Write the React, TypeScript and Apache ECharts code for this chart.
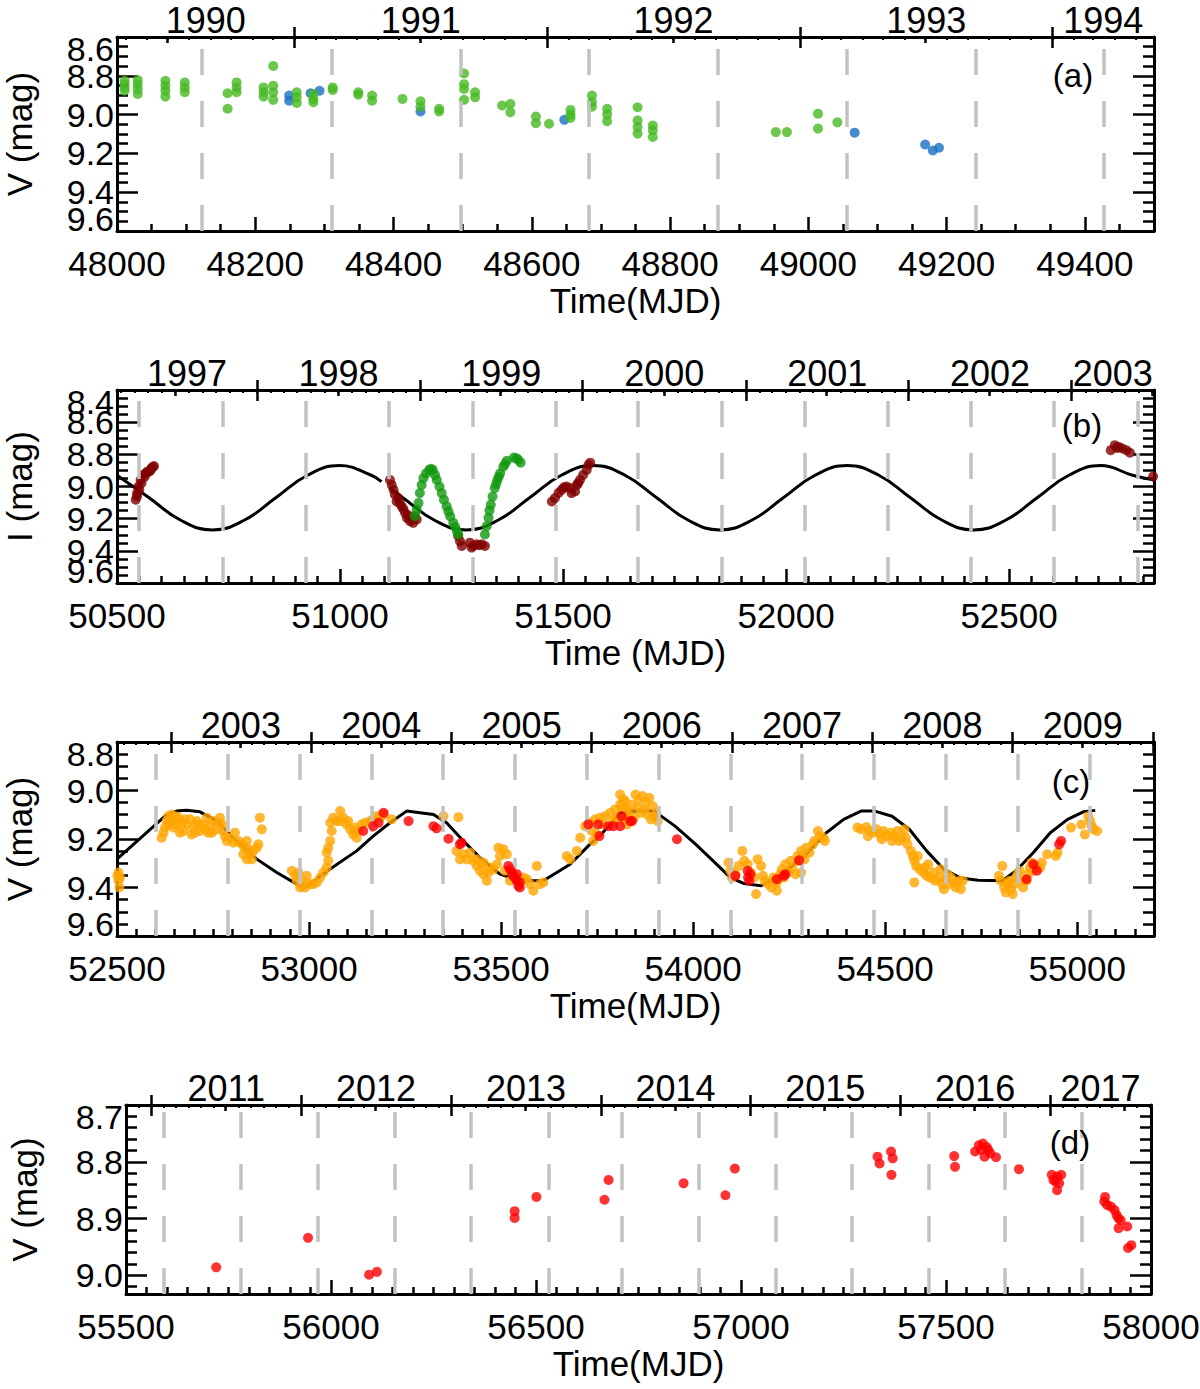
import React, { useEffect, useRef } from "react";
import * as echarts from "echarts";

type Pt = [number, number];
type CPt = [number, number | null];

// ---------------- Panel (a) ----------------
const yearsA = ["1990", "1991", "1992", "1993", "1994"];
const dashesA = [48123, 48310, 48497, 48682, 48869, 49056, 49242, 49428];
const greenA: Pt[] = [
  [48011, 8.826], [48011, 8.843], [48011, 8.86], [48011, 8.877],
  [48030, 8.822], [48030, 8.843], [48030, 8.868], [48030, 8.894],
  [48070, 8.826], [48070, 8.851], [48070, 8.877], [48070, 8.907],
  [48098, 8.834], [48098, 8.86], [48098, 8.885],
  [48160, 8.89], [48160, 8.97],
  [48173, 8.834], [48173, 8.86], [48173, 8.885],
  [48212, 8.86], [48212, 8.885], [48212, 8.907],
  [48226, 8.749], [48226, 8.851], [48226, 8.885], [48226, 8.924],
  [48260, 8.885], [48260, 8.911], [48260, 8.94],
  [48284, 8.894], [48284, 8.919], [48284, 8.936],
  [48312, 8.86], [48312, 8.873],
  [48349, 8.885], [48349, 8.897],
  [48369, 8.902], [48369, 8.928],
  [48413, 8.919],
  [48439, 8.931], [48439, 8.959],
  [48466, 8.97], [48466, 8.984],
  [48502, 8.788], [48502, 8.843], [48502, 8.868], [48502, 8.924],
  [48518, 8.885], [48518, 8.911],
  [48557, 8.953], [48569, 8.945], [48569, 8.988],
  [48606, 9.01], [48606, 9.044], [48625, 9.047],
  [48656, 8.976], [48656, 9.0], [48656, 9.017],
  [48687, 8.902], [48687, 8.936], [48687, 8.959],
  [48709, 8.97], [48709, 9.0], [48709, 9.034],
  [48753, 8.962], [48753, 9.03], [48753, 9.064], [48753, 9.098],
  [48775, 9.056], [48775, 9.081], [48775, 9.115],
  [48953, 9.09], [48969, 9.09],
  [49014, 8.995], [49014, 9.072], [49042, 9.04],
];
const blueA: Pt[] = [
  [48249, 8.902], [48249, 8.928], [48280, 8.89], [48293, 8.877],
  [48439, 8.984], [48647, 9.027], [49067, 9.093],
  [49169, 9.154], [49180, 9.185], [49189, 9.171],
];

// ---------------- Panel (b) ----------------
const yearsB = ["1997", "1998", "1999", "2000", "2001", "2002", "2003"];
const dashesB = [50549, 50737, 50923, 51109, 51297, 51483, 51668, 51855, 52042, 52228, 52414, 52601, 52788];
const modelB: CPt[] = [
  [50500, 8.93], [50572, 9.07], [50643, 9.21], [50714, 9.27], [50785, 9.21], [50856, 9.07],
  [50927, 8.93], [50999, 8.87], [51070, 8.93], [51093, 8.97], [51102, null],
  [51112, 9.01], [51141, 9.07], [51212, 9.21], [51283, 9.27], [51354, 9.21], [51425, 9.07],
  [51496, 8.93], [51568, 8.87], [51639, 8.93], [51710, 9.07], [51781, 9.21], [51852, 9.27],
  [51923, 9.21], [51994, 9.07], [52065, 8.93], [52137, 8.87], [52208, 8.93], [52279, 9.07],
  [52350, 9.21], [52421, 9.27], [52492, 9.21], [52563, 9.07], [52634, 8.93], [52706, 8.87],
  [52777, 8.93], [52825, 8.96],
];
const darkRedB: Pt[] = [
  [50542, 9.082], [50545, 9.041], [50548, 9.0], [50553, 8.959], [50555, 8.979], [50559, 8.928],
  [50564, 8.918], [50568, 8.908], [50572, 8.908], [50577, 8.887], [50583, 8.873],
  [50545, 9.06], [50550, 9.02], [50562, 8.94], [50575, 8.9], [50580, 8.88],
  [51112, 8.959], [51116, 8.99], [51120, 9.02], [51123, 9.051], [51127, 9.093], [51134, 9.102],
  [51138, 9.123], [51142, 9.14], [51146, 9.164], [51150, 9.195], [51157, 9.216], [51164, 9.226],
  [51172, 9.205], [51168, 9.185], [51130, 9.07], [51153, 9.18],
  [51265, 9.308], [51269, 9.34], [51273, 9.37], [51291, 9.349], [51295, 9.38], [51299, 9.37],
  [51306, 9.359], [51312, 9.365], [51318, 9.359], [51325, 9.37],
  [51475, 9.093], [51482, 9.072], [51490, 9.04], [51497, 9.02], [51502, 9.005], [51508, 9.0],
  [51516, 9.01], [51519, 9.041], [51527, 9.031], [51531, 8.99], [51534, 8.979], [51538, 8.959],
  [51545, 8.928], [51553, 8.897], [51557, 8.866], [51561, 8.852],
  [52728, 8.774], [52737, 8.743], [52742, 8.76], [52746, 8.754], [52754, 8.764], [52763, 8.774],
  [52771, 8.79], [52823, 8.938],
];
const greenB: Pt[] = [
  [51168, 9.185], [51172, 9.144], [51176, 9.102], [51179, 9.041], [51183, 8.99], [51187, 8.948],
  [51193, 8.918], [51200, 8.897], [51204, 8.89], [51208, 8.897], [51213, 8.928], [51217, 8.959],
  [51223, 9.0], [51228, 9.041], [51233, 9.082], [51239, 9.123], [51243, 9.155], [51247, 9.185],
  [51254, 9.226], [51258, 9.25], [51262, 9.277], [51265, 9.298],
  [51325, 9.298], [51329, 9.246], [51333, 9.195], [51335, 9.15], [51338, 9.113], [51342, 9.062],
  [51347, 9.01], [51350, 8.985], [51353, 8.959], [51356, 8.94], [51359, 8.918], [51366, 8.877],
  [51370, 8.86], [51374, 8.84], [51390, 8.82], [51396, 8.825], [51400, 8.835], [51405, 8.852],
];

// ---------------- Panel (c) ----------------
const yearsC = ["2003", "2004", "2005", "2006", "2007", "2008", "2009"];
const dashesC = [52602, 52789, 52976, 53162, 53349, 53536, 53723, 53910, 54097, 54284, 54471, 54658, 54845, 55032];
const modelC: Pt[] = [
  [52500, 9.283], [52625, 9.106], [52655, 9.085], [52681, 9.081], [52716, 9.088], [52760, 9.126],
  [52803, 9.195], [52864, 9.283], [52916, 9.338], [52968, 9.386], [52994, 9.396], [53055, 9.324],
  [53124, 9.249], [53167, 9.188], [53211, 9.133], [53254, 9.085], [53324, 9.099], [53358, 9.133],
  [53402, 9.208], [53445, 9.277], [53497, 9.345], [53549, 9.372], [53610, 9.372], [53680, 9.304],
  [53731, 9.222], [53757, 9.188], [53810, 9.092], [53837, 9.085], [53899, 9.085], [53953, 9.147],
  [54007, 9.222], [54052, 9.29], [54097, 9.359], [54133, 9.384], [54177, 9.393], [54231, 9.345],
  [54294, 9.263], [54347, 9.174], [54392, 9.119], [54437, 9.085], [54473, 9.085], [54518, 9.106],
  [54563, 9.16], [54608, 9.249], [54652, 9.324], [54697, 9.361], [54742, 9.37], [54805, 9.372],
  [54841, 9.331], [54886, 9.256], [54930, 9.174], [54975, 9.119], [55016, 9.088], [55047, 9.082],
];
const orangeC: Pt[] = [
  [52504, 9.338], [52508, 9.359], [52504, 9.372], [52506, 9.4], [52501, 9.352],
  [52616, 9.195], [52621, 9.174], [52625, 9.153], [52629, 9.126], [52634, 9.106], [52642, 9.099],
  [52651, 9.106], [52660, 9.112], [52668, 9.133], [52673, 9.167], [52681, 9.14], [52690, 9.119],
  [52699, 9.153], [52708, 9.126], [52716, 9.167], [52725, 9.14], [52734, 9.112], [52742, 9.147],
  [52751, 9.126], [52760, 9.16], [52768, 9.112], [52773, 9.14], [52655, 9.14], [52642, 9.126],
  [52664, 9.174], [52703, 9.174], [52738, 9.174], [52634, 9.14], [52647, 9.153], [52677, 9.119],
  [52694, 9.181], [52712, 9.14], [52729, 9.16], [52747, 9.174], [52764, 9.133], [52777, 9.167],
  [52781, 9.188], [52794, 9.195], [52807, 9.174], [52816, 9.208], [52825, 9.222], [52833, 9.236],
  [52838, 9.208], [52846, 9.263], [52855, 9.249], [52864, 9.236], [52868, 9.222], [52851, 9.284],
  [52838, 9.284], [52829, 9.263], [52842, 9.242], [52872, 9.112], [52877, 9.16], [52786, 9.208],
  [52803, 9.215],
  [52955, 9.331], [52964, 9.352], [52968, 9.372], [52977, 9.4], [52981, 9.393], [52985, 9.372],
  [52994, 9.352], [53003, 9.386], [53011, 9.386], [53020, 9.379], [53029, 9.359], [53037, 9.338],
  [53046, 9.318], [53050, 9.29], [53046, 9.256], [53050, 9.236], [53055, 9.208], [53059, 9.167],
  [53055, 9.133], [53063, 9.112], [53081, 9.085], [53072, 9.126], [53089, 9.112], [53098, 9.14],
  [53107, 9.16], [53115, 9.181], [53124, 9.195], [53120, 9.153], [53128, 9.167], [53137, 9.14],
  [53146, 9.133], [53159, 9.126], [53167, 9.119], [53176, 9.106], [53185, 9.112], [53194, 9.099],
  [53215, 9.119], [53350, 9.106], [53389, 9.11], [52972, 9.338], [52990, 9.4], [53081, 9.126],
  [53102, 9.126],
  [53384, 9.249], [53393, 9.284], [53402, 9.263], [53411, 9.284], [53419, 9.256], [53428, 9.29],
  [53437, 9.311], [53445, 9.331], [53454, 9.345], [53463, 9.372], [53450, 9.304], [53471, 9.318],
  [53480, 9.325], [53489, 9.304], [53497, 9.27], [53506, 9.242], [53493, 9.236], [53515, 9.263],
  [53510, 9.331], [53523, 9.372], [53536, 9.366], [53549, 9.372], [53558, 9.359], [53567, 9.366],
  [53575, 9.386], [53584, 9.413], [53593, 9.311], [53601, 9.386], [53610, 9.379], [53467, 9.338],
  [53437, 9.284], [53454, 9.297], [53671, 9.27], [53680, 9.284], [53706, 9.195], [53697, 9.249],
  [53719, 9.147], [53732, 9.133], [53745, 9.119], [53758, 9.112], [53771, 9.106], [53784, 9.092],
  [53797, 9.078], [53810, 9.058], [53818, 9.037], [53810, 9.017], [53823, 9.071], [53831, 9.099],
  [53736, 9.167], [53749, 9.181], [53740, 9.208], [53766, 9.14], [53792, 9.126], [53801, 9.112],
  [53814, 9.071], [53819, 9.119], [53823, 9.044], [53832, 9.085], [53841, 9.058], [53850, 9.017],
  [53859, 9.037], [53868, 9.023], [53877, 9.051], [53886, 9.03], [53895, 9.064], [53904, 9.092],
  [53908, 9.126], [53899, 9.106], [53855, 9.071], [53864, 9.092], [53881, 9.099], [53828, 9.14],
  [53846, 9.112], [53890, 9.119], [53873, 9.078],
  [54092, 9.297], [54097, 9.331], [54101, 9.359], [54110, 9.345], [54119, 9.311], [54128, 9.249],
  [54133, 9.29], [54142, 9.304], [54150, 9.338], [54159, 9.359], [54164, 9.427], [54168, 9.284],
  [54177, 9.311], [54182, 9.352], [54186, 9.372], [54195, 9.386], [54204, 9.4], [54209, 9.359],
  [54213, 9.372], [54218, 9.413], [54227, 9.345], [54231, 9.325], [54240, 9.304], [54249, 9.338],
  [54254, 9.29], [54258, 9.318], [54267, 9.345], [54272, 9.27], [54276, 9.29], [54281, 9.249],
  [54285, 9.27], [54294, 9.236], [54303, 9.256], [54312, 9.222], [54316, 9.208], [54325, 9.167],
  [54330, 9.188], [54339, 9.195], [54343, 9.208], [54281, 9.338], [54290, 9.284], [54218, 9.379],
  [54236, 9.359],
  [54428, 9.153], [54437, 9.16], [54451, 9.151], [54460, 9.167], [54469, 9.174], [54478, 9.16],
  [54487, 9.181], [54496, 9.167], [54505, 9.188], [54514, 9.174], [54523, 9.188], [54532, 9.167],
  [54541, 9.195], [54550, 9.16], [54554, 9.195], [54558, 9.222], [54567, 9.249], [54572, 9.27],
  [54576, 9.29], [54581, 9.311], [54585, 9.27], [54590, 9.325], [54599, 9.338], [54603, 9.318],
  [54608, 9.352], [54612, 9.304], [54617, 9.359], [54626, 9.338], [54630, 9.372], [54639, 9.359],
  [54644, 9.325], [54648, 9.386], [54653, 9.407], [54657, 9.366], [54662, 9.345], [54666, 9.386],
  [54671, 9.359], [54680, 9.379], [54684, 9.4], [54693, 9.372], [54697, 9.407], [54702, 9.372],
  [54491, 9.201], [54518, 9.208], [54536, 9.208], [54455, 9.188], [54576, 9.379],
  [54796, 9.352], [54801, 9.372], [54805, 9.311], [54810, 9.4], [54814, 9.42], [54819, 9.386],
  [54823, 9.372], [54828, 9.407], [54832, 9.427], [54836, 9.386], [54841, 9.359], [54845, 9.345],
  [54850, 9.331], [54854, 9.372], [54859, 9.4], [54868, 9.372], [54872, 9.345], [54877, 9.318],
  [54881, 9.297], [54886, 9.331], [54895, 9.311], [54904, 9.318], [54908, 9.297], [54922, 9.263],
  [54944, 9.27], [54949, 9.256], [54984, 9.153], [55011, 9.14], [55020, 9.181], [55029, 9.106],
  [55034, 9.126], [55038, 9.147], [55043, 9.16], [55052, 9.167],
];
const redC: Pt[] = [
  [53141, 9.167], [53167, 9.147], [53181, 9.133], [53194, 9.092], [53259, 9.126], [53324, 9.147],
  [53332, 9.156], [53363, 9.199], [53393, 9.222], [53397, 9.215],
  [53519, 9.311], [53523, 9.325], [53528, 9.338], [53532, 9.352], [53536, 9.359], [53541, 9.372],
  [53545, 9.393], [53549, 9.4], [53541, 9.345], [53549, 9.379],
  [53727, 9.14], [53753, 9.14], [53756, 9.188], [53779, 9.147], [53792, 9.147], [53810, 9.147],
  [53836, 9.126], [53814, 9.106], [53841, 9.126], [53958, 9.201],
  [54110, 9.352], [54142, 9.331], [54143, 9.359], [54146, 9.372], [54149, 9.345], [54218, 9.366],
  [54236, 9.352], [54240, 9.345], [54276, 9.288],
  [54868, 9.366], [54886, 9.304], [54895, 9.331], [54953, 9.222], [54958, 9.208],
];

// ---------------- Panel (d) ----------------
const yearsD = ["2011", "2012", "2013", "2014", "2015", "2016", "2017"];
const dashesD = [55592, 55780, 55967, 56155, 56342, 56530, 56710, 56897, 57084, 57270, 57457, 57644, 57830];
const redD: Pt[] = [
  [55720, 8.986], [55944, 8.934], [56093, 8.999], [56112, 8.994], [56448, 8.887], [56448, 8.899],
  [56501, 8.862], [56667, 8.867], [56677, 8.832], [56860, 8.838], [56962, 8.859], [56985, 8.812],
  [57333, 8.791], [57338, 8.803], [57366, 8.782], [57370, 8.794], [57367, 8.823], [57520, 8.79],
  [57522, 8.809], [57571, 8.782], [57580, 8.771], [57590, 8.768], [57599, 8.774], [57594, 8.791],
  [57608, 8.785], [57622, 8.792], [57585, 8.779], [57603, 8.779], [57678, 8.813], [57758, 8.823],
  [57762, 8.832], [57771, 8.826], [57781, 8.823], [57771, 8.85], [57776, 8.838], [57767, 8.835],
  [57888, 8.862], [57886, 8.87], [57893, 8.876], [57902, 8.879], [57911, 8.885], [57916, 8.894],
  [57921, 8.9], [57926, 8.903], [57921, 8.917], [57942, 8.914], [57944, 8.952], [57952, 8.947],
];

// ---------------- Layout / style ----------------
const FONT = "'Liberation Sans', Arial, Helvetica, sans-serif";
const BLACK = "#000";

type SeriesSpec = { kind: "scatter" | "curve"; data: any[]; color: string };
type Panel = {
  grid: { left: number; top: number; width: number; height: number };
  x: [number, number, number, number];
  y: [number, number, number, number];
  xName: string;
  yName: string;
  years: string[];
  dashes: number[];
  letter: string;
  letterXY: [number, number];
  series: SeriesSpec[];
};

const PANELS: Panel[] = [
  {
    grid: { left: 117, top: 37, width: 1037, height: 194 },
    x: [48000, 49500, 200, 50], y: [8.6, 9.6, 0.2, 0.05],
    xName: "Time(MJD)", yName: "V (mag)", years: yearsA, dashes: dashesA,
    letter: "(a)", letterXY: [1073, 75],
    series: [
      { kind: "scatter", data: blueA, color: "#1a6fc4" },
      { kind: "scatter", data: greenA, color: "#46b922" },
    ],
  },
  {
    grid: { left: 117, top: 390, width: 1037, height: 193 },
    x: [50500, 52825, 500, 50], y: [8.4, 9.6, 0.2, 0.05],
    xName: "Time (MJD)", yName: "I (mag)", years: yearsB, dashes: dashesB,
    letter: "(b)", letterXY: [1082, 425],
    series: [
      { kind: "curve", data: modelB, color: BLACK },
      { kind: "scatter", data: darkRedB, color: "#820000" },
      { kind: "scatter", data: greenB, color: "#12990f" },
    ],
  },
  {
    grid: { left: 117, top: 742, width: 1037, height: 194 },
    x: [52500, 55200, 500, 50], y: [8.8, 9.6, 0.2, 0.05],
    xName: "Time(MJD)", yName: "V (mag)", years: yearsC, dashes: dashesC,
    letter: "(c)", letterXY: [1071, 781],
    series: [
      { kind: "curve", data: modelC, color: BLACK },
      { kind: "scatter", data: orangeC, color: "#ffa500" },
      { kind: "scatter", data: redC, color: "#ff0000" },
    ],
  },
  {
    grid: { left: 126, top: 1105, width: 1025, height: 189 },
    x: [55500, 58000, 500, 50], y: [8.7, 9.033, 0.1, 0.02],
    xName: "Time(MJD)", yName: "V (mag)", years: yearsD, dashes: dashesD,
    letter: "(d)", letterXY: [1070, 1142],
    series: [{ kind: "scatter", data: redD, color: "#ff0000" }],
  },
];

// ---------------- helpers ----------------
const mjdOf = (y: number, m = 0) => Date.UTC(y, m, 1) / 86400000 + 40587;
const yearOf = (mjd: number) => new Date((mjd - 40587) * 86400000).getUTCFullYear();
function stepsFrom(min: number, max: number, step: number): number[] {
  const out: number[] = [];
  const n = Math.floor((max - min) / step + 1e-6);
  for (let i = 0; i <= n; i++) out.push(+(min + i * step).toFixed(6));
  return out;
}
function minorsOf(min: number, max: number, major: number, minor: number) {
  return stepsFrom(min, max, minor).filter((v) => {
    const r = (v - min) / major;
    return Math.abs(r - Math.round(r)) > 1e-6;
  });
}

function buildOption() {
  const grid: any[] = [];
  const xAxis: any[] = [];
  const yAxis: any[] = [];
  const series: any[] = [];
  const graphic: any[] = [];
  const tickStyle = { color: BLACK, width: 2.5 };
  const frameLine = { show: true, onZero: false, lineStyle: { color: BLACK, width: 3 } };
  const noLine = { show: false, onZero: false };
  const noLabel = { show: false };
  const noTick = { show: false };
  const noSplit = { show: false };

  PANELS.forEach((P, p) => {
    grid.push({ ...P.grid, containLabel: false, outerBoundsMode: "none" });
    const [xMin, xMax, xMaj, xMinr] = P.x;
    const [yMin, yMax, yMaj, yMinr] = P.y;
    const xMajors = stepsFrom(xMin, xMax, xMaj);
    const xMinors = minorsOf(xMin, xMax, xMaj, xMinr);
    const yMajors = stepsFrom(yMin, yMax, yMaj);
    const yMinors = minorsOf(yMin, yMax, yMaj, yMinr);
    const near = (a: number, b: number) => Math.abs(a - b) < 1e-6;
    const yInner = yMajors.filter((v) => !near(v, yMin) && !near(v, yMax));
    const yInnerEven = yInner.filter((_, i) => i % 2 === 0);
    const yInnerOdd = yInner.filter((_, i) => i % 2 === 1);
    const yEndTop = yMajors.filter((v) => near(v, yMin));
    const yEndBottom = yMajors.filter((v) => near(v, yMax));

    const y0 = yearOf(xMin);
    const y1 = yearOf(xMax);
    const yearStarts: number[] = [];
    const midYears: number[] = [];
    const months: number[] = [];
    for (let y = y0; y <= y1 + 1; y++) {
      const s = mjdOf(y);
      if (s > xMin && s < xMax) yearStarts.push(s);
      const mid = mjdOf(y, 6);
      if (mid > xMin && mid < xMax) midYears.push(mid);
      for (let m = 0; m < 12; m++) {
        const v = mjdOf(y, m);
        if (v > xMin && v < xMax) months.push(v);
      }
    }
    const yearLabelPos = P.years.map((ys) => {
      const y = +ys;
      const s = Math.max(mjdOf(y), xMin);
      const e = Math.min(mjdOf(y + 1), xMax);
      return (s + e) / 2;
    });

    const bx = xAxis.length;
    const base = { gridIndex: p, type: "value", min: xMin, max: xMax, splitLine: noSplit };
    xAxis.push({
      ...base, position: "bottom",
      axisLine: frameLine,
      axisTick: { show: true, inside: true, length: 14, customValues: xMajors, lineStyle: tickStyle },
      axisLabel: {
        show: true, customValues: xMajors, formatter: (v: number) => String(Math.round(v)),
        fontSize: 35, fontFamily: FONT, color: BLACK, margin: 15, showMinLabel: true, showMaxLabel: true,
      },
      name: P.xName, nameLocation: "middle", nameGap: 52,
      nameTextStyle: { fontSize: 35, fontFamily: FONT, color: BLACK },
    });
    xAxis.push({
      ...base, position: "bottom", axisLine: noLine, axisLabel: noLabel,
      axisTick: { show: true, inside: true, length: 7, customValues: xMinors, lineStyle: tickStyle },
    });
    xAxis.push({
      ...base, position: "top", axisLine: frameLine,
      axisTick: { show: true, inside: false, length: 10, customValues: yearStarts, lineStyle: tickStyle },
      axisLabel: {
        show: true, customValues: yearLabelPos, formatter: (v: number) => String(yearOf(v)),
        fontSize: 36, fontFamily: FONT, color: BLACK, margin: -1, showMinLabel: true, showMaxLabel: true,
      },
    });
    xAxis.push({
      ...base, position: "top", axisLine: noLine, axisLabel: noLabel,
      axisTick: { show: true, inside: true, length: 11, customValues: yearStarts, lineStyle: tickStyle },
    });
    xAxis.push({
      ...base, position: "top", axisLine: noLine, axisLabel: noLabel,
      axisTick: { show: true, inside: true, length: 6, customValues: midYears, lineStyle: tickStyle },
    });
    xAxis.push({
      ...base, position: "top", axisLine: noLine, axisLabel: noLabel,
      axisTick: { show: true, inside: true, length: 3, customValues: months, lineStyle: { color: BLACK, width: 2 } },
    });

    const ly = yAxis.length;
    const yBase = { gridIndex: p, type: "value", inverse: true, min: yMin, max: yMax, splitLine: noSplit };
    const yLabel = { fontSize: 34, lineHeight: 24, fontFamily: FONT, color: BLACK, margin: 3 };
    const fmt = (v: number) => v.toFixed(1);
    // frame + major ticks + every other inner label
    yAxis.push({
      ...yBase, position: "left", axisLine: frameLine,
      axisTick: { show: true, inside: true, length: 21, customValues: yMajors, lineStyle: tickStyle },
      axisLabel: { show: true, customValues: yInnerEven, formatter: fmt, ...yLabel },
      name: P.yName, nameLocation: "middle", nameGap: p === 3 ? 84 : 80,
      nameTextStyle: { fontSize: 35, fontFamily: FONT, color: BLACK },
    });
    const labelAxis = (values: number[], extra: any = {}) => {
      if (!values.length) return;
      yAxis.push({
        ...yBase, position: "left", axisLine: noLine, axisTick: noTick,
        axisLabel: { show: true, customValues: values, formatter: fmt, ...yLabel, ...extra },
      });
    };
    labelAxis(yInnerOdd);
    labelAxis(yEndTop, { verticalAlign: "top" });
    labelAxis(yEndBottom, { verticalAlign: "bottom" });
    yAxis.push({
      ...yBase, position: "left", axisLine: noLine, axisLabel: noLabel,
      axisTick: { show: true, inside: true, length: 11, customValues: yMinors, lineStyle: tickStyle },
    });
    yAxis.push({
      ...yBase, position: "right", axisLine: frameLine, axisLabel: noLabel,
      axisTick: { show: true, inside: true, length: 21, customValues: yMajors, lineStyle: tickStyle },
    });
    yAxis.push({
      ...yBase, position: "right", axisLine: noLine, axisLabel: noLabel,
      axisTick: { show: true, inside: true, length: 11, customValues: yMinors, lineStyle: tickStyle },
    });

    series.push({
      type: "line", xAxisIndex: bx, yAxisIndex: ly, data: [], silent: true, z: 1,
      markLine: {
        silent: true, symbol: ["none", "none"], label: { show: false }, emphasis: { disabled: true },
        animation: false,
        lineStyle: { color: "#c2c2c2", width: 3.5, type: [26, 26] },
        data: P.dashes.map((x) => [{ coord: [x, yMax] }, { coord: [x, yMin] }]),
      },
    });

    P.series.forEach((s, i) => {
      if (s.kind === "curve") {
        series.push({
          type: "line", xAxisIndex: bx, yAxisIndex: ly, data: s.data, showSymbol: false, symbol: "none",
          smooth: p === 1 ? 0.45 : false, connectNulls: false, silent: true, z: 2,
          lineStyle: { color: s.color, width: 3 },
        });
      } else {
        series.push({
          type: "scatter", xAxisIndex: bx, yAxisIndex: ly, data: s.data, symbol: "circle",
          symbolSize: 10, silent: true, z: 3 + i,
          itemStyle: { color: s.color },
        });
      }
    });

    graphic.push({
      type: "text", x: P.letterXY[0], y: P.letterXY[1], z: 10,
      style: {
        text: P.letter, fontSize: 33, fontFamily: FONT, fill: BLACK,
        textAlign: "center", textVerticalAlign: "middle",
      },
    });
  });

  return {
    animation: false,
    backgroundColor: "#ffffff",
    grid, xAxis, yAxis, series, graphic,
  };
}

export default function App() {
  const ref = useRef<HTMLDivElement>(null);
  useEffect(() => {
    if (!ref.current) return;
    const chart = echarts.init(ref.current, undefined, { renderer: "svg", width: 1200, height: 1389 });
    chart.setOption(buildOption() as any);
    return () => chart.dispose();
  }, []);
  return (
    <div
      ref={ref}
      style={{ position: "absolute", left: 0, top: 0, width: 1200, height: 1389, background: "#fff" }}
    />
  );
}
